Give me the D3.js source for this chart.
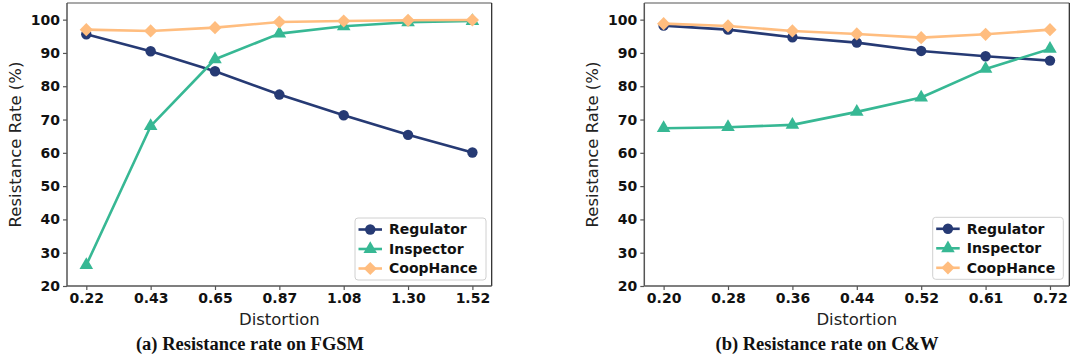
<!DOCTYPE html>
<html><head><meta charset="utf-8">
<script src="https://cdn.jsdelivr.net/npm/d3@7"></script>
<style>
body{margin:0;background:#fff;}
svg{display:block;}
</style></head>
<body>
<svg id="chart" width="1071" height="360"></svg>
<script>
const seriesNames = ["Regulator", "Inspector", "CoopHance"];
const seriesColors = ["#263a74", "#37b894", "#ffbd7f"];
const seriesMarkers = ["circle", "triangle", "diamond"];

const fgsmCategories = ["0.22", "0.43", "0.65", "0.87", "1.08", "1.30", "1.52"];
const fgsmRegulator = [95.6, 90.5, 84.5, 77.5, 71.3, 65.4, 60.1];
const fgsmInspector = [26.3, 68.0, 88.1, 95.8, 98.0, 99.2, 99.6];
const fgsmCoopHance = [97.0, 96.6, 97.6, 99.3, 99.6, 99.8, 99.9];

const cwCategories = ["0.20", "0.28", "0.36", "0.44", "0.52", "0.61", "0.72"];
const cwRegulator = [98.2, 97.0, 94.7, 93.1, 90.6, 89.0, 87.7];
const cwInspector = [67.4, 67.7, 68.4, 72.3, 76.6, 85.2, 91.2];
const cwCoopHance = [98.8, 98.1, 96.6, 95.7, 94.6, 95.6, 97.0];

const yTicks = [20, 30, 40, 50, 60, 70, 80, 90, 100];
const yLabel = "Resistance Rate (%)";
const xLabel = "Distortion";
const captions = ["(a) Resistance rate on FGSM", "(b) Resistance rate on C&W"];

const svg = d3.select("#chart");
const tickFont = "'DejaVu Sans', sans-serif";

function markerPath(type) {
  if (type === "circle") return d3.symbol().type(d3.symbolCircle).size(85)();
  if (type === "triangle") return d3.symbol().type(d3.symbolTriangle).size(80)();
  const h = 6.6;
  return `M0,${-h}L${h},0L0,${h}L${-h},0Z`;
}

function drawPanel(cfg) {
  const {left, right, top, bottom, categories, values, caption, captionX, ylabelX, legendBox} = cfg;
  const x = d3.scalePoint().domain(categories).range([left, right]).padding(0.3);
  const y = d3.scaleLinear().domain([20, 105]).range([bottom, top]);
  const g = svg.append("g");

  g.append("line").attr("x1", left).attr("x2", right).attr("y1", top).attr("y2", top).attr("stroke", "#555").attr("stroke-width", 1.2);
  g.append("line").attr("x1", right).attr("x2", right).attr("y1", top).attr("y2", bottom).attr("stroke", "#222").attr("stroke-width", 1.2);

  const xAxis = g.append("g").attr("transform", `translate(0,${bottom})`)
    .call(d3.axisBottom(x).tickSize(4).tickPadding(3));
  const yAxis = g.append("g").attr("transform", `translate(${left},0)`)
    .call(d3.axisLeft(y).tickValues(yTicks).tickSize(4).tickPadding(3));
  [xAxis, yAxis].forEach(a => {
    a.select(".domain").attr("stroke", "#555").attr("stroke-width", 1.5);
    a.selectAll(".tick line").attr("stroke", "#555").attr("stroke-width", 1.2);
    a.selectAll(".tick text").attr("fill", "#111").style("font-family", tickFont)
      .style("font-weight", "bold").style("font-size", "14px");
  });
  xAxis.select(".domain").attr("d", `M${left},0H${right}`);
  yAxis.select(".domain").attr("d", `M0,${bottom}V${top}`);

  values.forEach((vals, i) => {
    const line = d3.line().x((d, j) => x(categories[j])).y(d => y(d));
    g.append("path").datum(vals).attr("d", line).attr("fill", "none")
      .attr("stroke", seriesColors[i]).attr("stroke-width", 2.6).attr("stroke-linejoin", "round");
    g.selectAll(null).data(vals).enter().append("path")
      .attr("transform", (d, j) => `translate(${x(categories[j])},${y(d)})`)
      .attr("d", markerPath(seriesMarkers[i]))
      .attr("fill", seriesColors[i]);
  });

  g.append("text").attr("x", (left + right) / 2).attr("y", 325).attr("text-anchor", "middle")
    .style("font-family", tickFont).style("font-size", "16.5px").attr("fill", "#222").text(xLabel);
  g.append("text").attr("transform", `translate(${ylabelX},${(top + bottom) / 2}) rotate(-90)`)
    .attr("text-anchor", "middle").attr("dy", "0.35em")
    .style("font-family", tickFont).style("font-size", "16.5px").attr("fill", "#222").text(yLabel);

  g.append("text").attr("x", captionX).attr("y", 350).attr("text-anchor", "middle")
    .style("font-family", "'Liberation Serif', 'DejaVu Serif', serif").style("font-weight", "bold")
    .style("font-size", "18.5px").attr("fill", "#111").text(caption);

  const lg = g.append("g");
  lg.append("rect").attr("x", legendBox.x).attr("y", legendBox.y).attr("width", legendBox.w).attr("height", legendBox.h)
    .attr("rx", 3).attr("fill", "#fff").attr("fill-opacity", 0.85).attr("stroke", "#d0d0d0").attr("stroke-width", 1);
  seriesNames.forEach((name, i) => {
    const ry = legendBox.y + 11.5 + i * 19.5;
    const lx0 = legendBox.x + 3.5, lx1 = legendBox.x + 27;
    lg.append("line").attr("x1", lx0).attr("x2", lx1).attr("y1", ry).attr("y2", ry)
      .attr("stroke", seriesColors[i]).attr("stroke-width", 2.6);
    lg.append("path").attr("transform", `translate(${(lx0 + lx1) / 2},${ry})`)
      .attr("d", markerPath(seriesMarkers[i])).attr("fill", seriesColors[i]);
    lg.append("text").attr("x", legendBox.x + 34).attr("y", ry).attr("dy", "0.35em")
      .style("font-family", tickFont).style("font-weight", "bold").style("font-size", "14px")
      .attr("fill", "#111").text(name);
  });
}

drawPanel({
  left: 67, right: 491.7, top: 3, bottom: 286,
  categories: fgsmCategories,
  values: [fgsmRegulator, fgsmInspector, fgsmCoopHance],
  caption: captions[0], captionX: 250, ylabelX: 15,
  legendBox: {x: 355, y: 218, w: 131, h: 62}
});
drawPanel({
  left: 644.3, right: 1069.3, top: 3, bottom: 286,
  categories: cwCategories,
  values: [cwRegulator, cwInspector, cwCoopHance],
  caption: captions[1], captionX: 827, ylabelX: 592,
  legendBox: {x: 932.7, y: 217.3, w: 130.6, h: 62}
});
</script>
</body></html>
